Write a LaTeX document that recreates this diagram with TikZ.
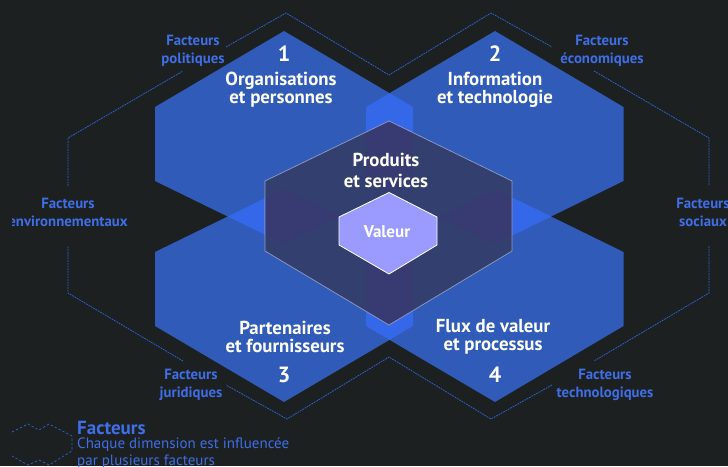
\documentclass[tikz,border=0pt]{standalone}
\usepackage{fontspec}
\setmainfont{PT Sans}
\definecolor{bgc}{HTML}{1C2020}
\definecolor{hexc}{HTML}{315BB8}
\definecolor{lapc}{HTML}{3568E8}
\definecolor{midc}{HTML}{33406F}
\definecolor{midl}{HTML}{373B72}
\definecolor{valc}{HTML}{9B9BFF}
\definecolor{facc}{HTML}{3F6EE6}
\definecolor{dashc}{HTML}{2F5FD0}
\tikzset{
 dimtext/.style={text=white,font=\bfseries\fontsize{18.8}{18}\selectfont,align=center,inner sep=0pt},
 numtext/.style={text=white,font=\bfseries\fontsize{22}{22}\selectfont,inner sep=0pt},
 factext/.style={text=facc,font=\bfseries\fontsize{14.8}{18}\selectfont,align=center,inner sep=0pt},
 outer/.style={draw=dashc,line width=0.8pt,dash pattern=on 1.8pt off 0.9pt},
}
\def\hexA{(284,31)--(413,107)--(413,181)--(284,244)--(155,181)--(155,107)--cycle}
\def\hexB{(495,31)--(623.5,107)--(623.5,181)--(495,244)--(366,181)--(366,107)--cycle}
\def\hexC{(284,402)--(413,326)--(413,252)--(284,189)--(155,252)--(155,326)--cycle}
\def\hexD{(495,402)--(623.5,326)--(623.5,252)--(495,189)--(366,252)--(366,326)--cycle}
\def\hexM{(389,121)--(512,181)--(512,251)--(389,325)--(265,251)--(265,181)--cycle}
\begin{document}
\begin{tikzpicture}[x=1pt,y=-1pt]
\useasboundingbox (0,0) rectangle (728,466);
\fill[bgc] (0,0) rectangle (728,466);
\clip (0,0) rectangle (728,466);
\fill[hexc] \hexA; \fill[hexc] \hexB; \fill[hexc] \hexC; \fill[hexc] \hexD;
\begin{scope}\clip \hexA; \fill[lapc] \hexB; \fill[lapc] \hexC;\end{scope}
\begin{scope}\clip \hexD; \fill[lapc] \hexB; \fill[lapc] \hexC;\end{scope}
\fill[midc] \hexM;
\begin{scope}\clip \hexM;
\begin{scope}\clip \hexA; \fill[midl] \hexB; \fill[midl] \hexC;\end{scope}
\begin{scope}\clip \hexD; \fill[midl] \hexB; \fill[midl] \hexC;\end{scope}
\end{scope}
\draw[draw=white,draw opacity=0.45,line width=0.7pt] \hexM;
\fill[valc,draw=white,line width=0.8pt] (389,192.5)--(437,217)--(437,245)--(389,274)--(339,245)--(339,217)--cycle;
% outer dashed outline
\draw[outer] (68,186)--(68,138)--(183,71);
\draw[outer] (226,47)--(286,13)--(389,75)--(491,13)--(552,47);
\draw[outer] (594,71)--(709,138)--(709,186);
\draw[outer] (709,246)--(709,293)--(594,361);
\draw[outer] (552,385)--(491,419)--(389,357)--(287,419)--(226,385);
\draw[outer] (183,361)--(68,293)--(68,246);
% legend icon
\draw[outer,line width=0.7pt,dash pattern=on 2.4pt off 2pt] (12,432)--(28,424)--(39,430)--(49,424)--(72,436)--(72,451)--(49,465)--(39,460)--(28,465)--(12,456);
% dimension text
\node[numtext] (n1) at (284,54) {1};
\node[dimtext] (t1) at (281,89.5) {Organisations\\et personnes};
\node[numtext] (n2) at (495,54) {2};
\node[dimtext] (t2) at (495,89.5) {Information\\et technologie};
\node[dimtext] (t3) at (285,337) {Partenaires\\et fournisseurs};
\node[numtext] (n3) at (284,375) {3};
\node[dimtext] (t4) at (493,337) {Flux de valeur\\et processus};
\node[numtext] (n4) at (495,375) {4};
\node[dimtext] (tm) at (386,170) {Produits\\[3pt]et services};
\node[dimtext,font=\bfseries\fontsize{17}{17}\selectfont] (tv) at (387,232) {Valeur};
% factors
\node[factext] (f1) at (193,50.5) {Facteurs\\politiques};
\node[factext] (f2) at (602,50.5) {Facteurs\\économiques};
\begin{scope}
\clip (12,190) rectangle (140,240);
\node[factext] (f3) at (68,212) {Facteurs\\environnementaux};
\end{scope}
\node[factext] (f4) at (703,212) {Facteurs\\sociaux};
\node[factext] (f5) at (191,384.5) {Facteurs\\juridiques};
\node[factext] (f6) at (605,384.5) {Facteurs\\technologiques};
% legend
\node[anchor=west,text=facc,font=\bfseries\fontsize{19}{19}\selectfont,inner sep=0pt] (lt) at (77,427.5) {Facteurs};
\node[anchor=north west,text=facc,font=\fontsize{15}{17}\selectfont,align=left,inner sep=0pt] (ld) at (77,437) {Chaque dimension est influencée\\par plusieurs facteurs};
\end{tikzpicture}
\end{document}
